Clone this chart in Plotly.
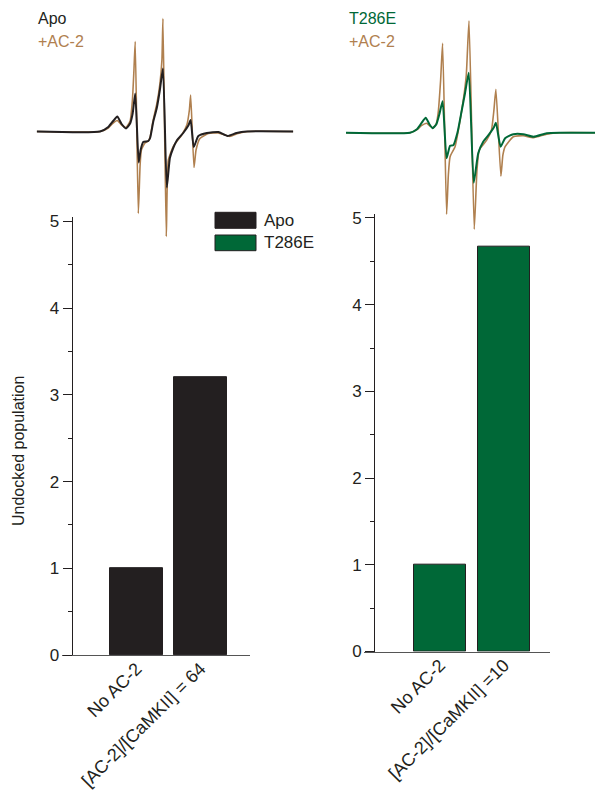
import plotly.graph_objects as go

# ---------------- data ----------------
# EPR spectra (field in a.u., 0-100 sweep; intensity in a.u.)
apo_field = [0, 24.7, 27.9, 29.8, 31.4, 33.1, 34.8, 36.4, 37.4, 38.4, 39.75, 40.5, 41.5,
             43.5, 44.2, 45.4, 46.8, 48.0, 49.2, 50.7, 51.9, 53.2, 54.6, 57.1, 59.1, 60.0,
             61.2, 63.0, 66.3, 70.8, 74.4, 77.9, 81.8, 100]
apo_int = [0, 0, 0.45, 1.05, 1.5, 0.75, 0.3, 0.8, 1.8, 3.8, -3.1, -1.85, -1.05,
           -0.95, -0.65, 0.95, 2.35, 4.15, 6.3, -5.6, -2.65, -1.65, -0.9, -0.15, 0.6, 1.15,
           -1.55, -0.45, -0.15, -0.05, -0.45, -0.15, 0, 0]

apo_ac2_field = [0, 24.7, 27.9, 29.8, 31.4, 33.1, 34.8, 36.4, 37.3, 37.9, 38.4, 39.6, 40.3,
                 40.8, 42.2, 43.5, 44.2, 45.4, 46.8, 48.0, 48.8, 49.2, 50.5, 51.3, 53.2,
                 54.6, 56.5, 58.5, 59.5, 60.0, 61.3, 62.1, 63.6, 66.9, 70.8, 75.3, 78.4,
                 82.3, 100]
apo_ac2_int = [0, 0, 0.35, 0.85, 1.1, 0.65, 0.4, 1.05, 3.15, 6.15, 9.0, -8.2, -3.35,
               -1.85, -1.15, -0.95, -0.55, 1.15, 2.75, 4.75, 7.15, 11.3, -10.5, -2.85, -1.5,
               -1.0, -0.35, 0.65, 2.15, 3.65, -3.6, -1.85, -0.7, -0.2, -0.15, -0.5, -0.2,
               0, 0]

t286e_field = [0, 25.7, 28.5, 30.3, 32.0, 33.5, 34.8, 36.3, 37.5, 38.8, 40.4, 41.8, 43.1,
               44.8, 46.5, 47.8, 49.3, 51.3, 53.1, 55.1, 57.8, 59.4, 60.2, 62.1, 63.9,
               67.2, 71.2, 75.3, 80.6, 86, 100]
t286e_int = [0, 0, 0.35, 0.95, 1.5, 0.85, 0.45, 0.85, 1.85, 3.15, -2.55, -1.3, -1.25,
             0.05, 2.25, 3.95, 6.0, -5.0, -2.05, -0.9, -0.05, 0.55, 1.0, -1.4, -0.55,
             -0.15, -0.15, -0.4, -0.05, 0, 0]

t286e_ac2_field = [0, 25.7, 28.5, 30.3, 32.4, 33.7, 35.1, 36.3, 37.0, 38.0, 38.8, 40.4,
                   41.1, 41.8, 43.8, 45.5, 47.1, 48.3, 49.4, 51.5, 52.6, 53.5, 56.5, 58.4,
                   59.4, 60.2, 62.2, 63.0, 63.9, 67.2, 71.2, 75.3, 80.6, 86, 100]
t286e_ac2_int = [0, 0, 0.3, 0.7, 0.95, 0.65, 0.5, 0.95, 1.95, 5.25, 8.95, -8.15,
                 -4.25, -2.4, -1.4, 0.75, 3.25, 5.75, 11.2, -9.65, -3.75, -1.75, -0.75, 0.25,
                 2.25, 4.35, -4.35, -2.25, -1.4, -0.4, -0.3, -0.5, -0.15, 0, 0]

# Bar data
apo_categories = ["No AC-2", "[AC-2]/[CaMKII] = 64"]
apo_values = [1.0, 3.2]
t286e_categories = ["No AC-2", "[AC-2]/[CaMKII] =10"]
t286e_values = [1.0, 4.67]
y_ticks = [0, 1, 2, 3, 4, 5]

# ---------------- style ----------------
BLACK = "#231f20"
GREEN = "#006837"
BROWN = "#b0804f"
FONT = "Liberation Sans, Arial, sans-serif"
W, H = 595, 790


def px_x(p):
    return p / W


def px_y(p):
    return 1 - p / H


fig = go.Figure()

SPL = dict(shape="spline", smoothing=0.5)

# spectra
fig.add_trace(go.Scatter(x=apo_ac2_field, y=apo_ac2_int, mode="lines",
                         line=dict(color=BROWN, width=1.6, **SPL), xaxis="x3", yaxis="y3",
                         showlegend=False))
fig.add_trace(go.Scatter(x=apo_field, y=apo_int, mode="lines",
                         line=dict(color=BLACK, width=2, **SPL), xaxis="x3", yaxis="y3",
                         showlegend=False))
fig.add_trace(go.Scatter(x=t286e_ac2_field, y=t286e_ac2_int, mode="lines",
                         line=dict(color=BROWN, width=1.6, **SPL), xaxis="x4", yaxis="y4",
                         showlegend=False))
fig.add_trace(go.Scatter(x=t286e_field, y=t286e_int, mode="lines",
                         line=dict(color=GREEN, width=2, **SPL), xaxis="x4", yaxis="y4",
                         showlegend=False))

# bars
fig.add_trace(go.Bar(x=apo_categories, y=apo_values, width=0.823,
                     marker=dict(color=BLACK, line=dict(color=BLACK, width=1)),
                     xaxis="x", yaxis="y", showlegend=False))
fig.add_trace(go.Bar(x=t286e_categories, y=t286e_values, width=0.80,
                     marker=dict(color=GREEN, line=dict(color=BLACK, width=1)),
                     xaxis="x2", yaxis="y2", showlegend=False))

ytickfont = dict(family=FONT, size=17, color=BLACK)
xtickfont = dict(family=FONT, size=18, color=BLACK)

common_x = dict(showline=True, linecolor="#555555", linewidth=1.3, ticks="",
                tickangle=-45, tickfont=xtickfont, showgrid=False, zeroline=False,
                type="category", automargin=False, ticklabelstandoff=-5)
common_y = dict(showline=True, linecolor=BLACK, linewidth=1.3, ticks="outside",
                ticklen=9, tickwidth=1, tickcolor=BLACK, tickvals=y_ticks,
                tickfont=ytickfont, showgrid=False, zeroline=False, range=[0, 5.05],
                minor=dict(dtick=0.5, ticks="outside", ticklen=4, tickcolor=BLACK,
                           tickwidth=1, showgrid=False),
                anchor="free", automargin=False)

hidden = dict(visible=False, showgrid=False, zeroline=False, automargin=False)

fig.update_layout(
    width=W, height=H,
    margin=dict(l=0, r=0, t=0, b=0, autoexpand=False),
    paper_bgcolor="white", plot_bgcolor="rgba(0,0,0,0)",
    font=dict(family=FONT, color=BLACK, size=16),
    bargap=0,
    xaxis=dict(domain=[px_x(62), px_x(250)], range=[-1.1625, 1.775], anchor="y",
               **common_x),
    yaxis=dict(domain=[px_y(655), px_y(655 - 5.05 * 86.7)], position=px_x(71.7),
               **common_y),
    xaxis2=dict(domain=[px_x(364), px_x(550)], range=[-1.1875, 1.72], anchor="y2",
                **common_x),
    yaxis2=dict(domain=[px_y(651.5), px_y(651.5 - 5.05 * 86.7)], position=px_x(374.3),
                **common_y),
    xaxis3=dict(domain=[px_x(36.7), px_x(293.3)], range=[0, 100], anchor="y3", **hidden),
    yaxis3=dict(domain=[px_y(245), px_y(10)], range=[-11.35, 12.15], anchor="x3", **hidden),
    xaxis4=dict(domain=[px_x(346), 1.0], range=[0, 100], anchor="y4", **hidden),
    yaxis4=dict(domain=[px_y(245), px_y(10)], range=[-11.23, 12.27], anchor="x4", **hidden),
)

# legend (drawn)
fig.add_shape(type="rect", xref="paper", yref="paper",
              x0=px_x(215), x1=px_x(256), y0=px_y(228.3), y1=px_y(212.3),
              fillcolor=BLACK, line=dict(color=BLACK, width=1))
fig.add_shape(type="rect", xref="paper", yref="paper",
              x0=px_x(215), x1=px_x(256), y0=px_y(250.7), y1=px_y(235),
              fillcolor=GREEN, line=dict(color=BLACK, width=1))

annots = [
    dict(text="Apo", x=px_x(262), y=px_y(220.5), color=BLACK, size=17),
    dict(text="T286E", x=px_x(262), y=px_y(243), color=BLACK, size=17),
    dict(text="Apo", x=px_x(36), y=px_y(18.5), color=BLACK, size=16),
    dict(text="+AC-2", x=px_x(36), y=px_y(41), color=BROWN, size=16),
    dict(text="T286E", x=px_x(347), y=px_y(18.5), color=GREEN, size=16),
    dict(text="+AC-2", x=px_x(347), y=px_y(41), color=BROWN, size=16),
]
for a in annots:
    fig.add_annotation(text=a["text"], x=a["x"], y=a["y"], xref="paper", yref="paper",
                       xanchor="left", yanchor="middle", showarrow=False,
                       font=dict(family=FONT, size=a["size"], color=a["color"]))

fig.add_annotation(text="Undocked population", x=px_x(18), y=px_y(451),
                   xref="paper", yref="paper", textangle=-90, showarrow=False,
                   xanchor="center", yanchor="middle",
                   font=dict(family=FONT, size=16, color=BLACK))

fig.write_html("out.html", config={"displayModeBar": False},
               post_script="document.body.style.margin='0';document.body.style.overflow='hidden';")
